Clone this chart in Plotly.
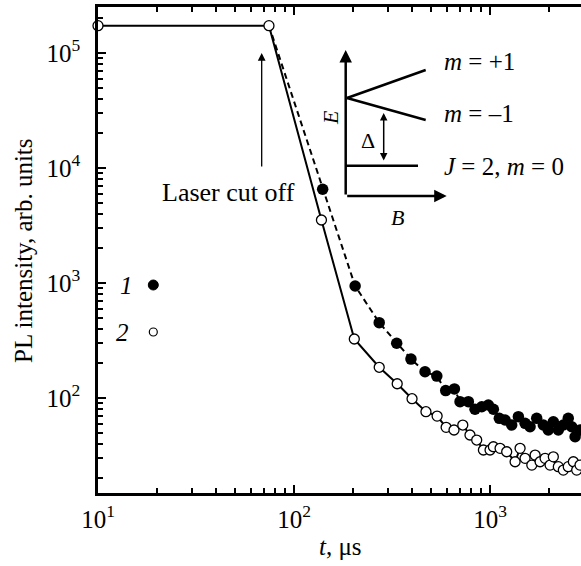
import math
import plotly.graph_objects as go

# ---------------- data ----------------
T_CUT = 74.5          # laser cut-off time, us
I_CW = 1.73e5         # steady-state intensity

# series 1 (filled circles, dashed line) after cut-off
t1 = [140, 205, 272, 334, 395, 466, 535, 594, 658, 703, 775, 838, 907, 980,
      1040, 1115, 1193, 1290, 1395, 1509, 1600, 1730, 1870, 1982, 2103, 2230,
      2365, 2506, 2610, 2716, 2877]
I1 = [6530, 941, 452, 299, 218, 169, 155, 116, 120, 92.9, 93, 79.8, 84, 86.9,
      79.8, 66.6, 64.4, 58.2, 68.8, 60.2, 56.3, 66.6, 58.2, 52.7, 62.2, 52.7,
      58.2, 66.6, 56.3, 46.0, 52.7]

# series 2 (open circles, solid line)
t2 = [10, 74.5, 138, 203, 272, 336, 400, 471, 537, 597, 655, 726, 790, 855,
      925, 1000, 1040, 1125, 1216, 1342, 1423, 1509, 1633, 1698, 1800, 1909,
      2024, 2103, 2230, 2365, 2506, 2661, 2767, 2877]
I2 = [1.73e5, 1.73e5, 3530, 326, 185, 133, 98.6, 76.0, 69.6, 55.6, 52.7, 58.2,
      47.7, 43.1, 35.3, 35.3, 37.7, 36.5, 34.1, 27.9, 36.5, 29.9, 26.1, 31.9,
      27.9, 29.9, 26.1, 30.8, 25.3, 23.6, 25.3, 27.9, 23.6, 26.1]

X_TICKS = [10, 100, 1000]
X_TICKTEXT = ["10<sup>1</sup>", "10<sup>2</sup>", "10<sup>3</sup>"]
Y_TICKS = [100, 1000, 10000, 100000]
Y_TICKTEXT = ["10<sup>2</sup>", "10<sup>3</sup>", "10<sup>4</sup>",
              "10<sup>5</sup>"]

X_RANGE_LOG = [1.0, 3.464]
Y_RANGE_LOG = [1.174, 5.40]

FONT = "Liberation Serif"
W, H = 581, 566
ML, MR, MT, MB = 98, 0, 7, 73
PW, PH = W - ML - MR, H - MT - MB


def px(x):
    return (x - ML) / PW


def py(y):
    return (H - MB - y) / PH


fig = go.Figure()

# series 1 dashed line (starts at cut-off point)
fig.add_trace(go.Scatter(
    x=[T_CUT] + t1, y=[I_CW] + I1, mode="lines",
    line=dict(color="black", width=2, dash="6px,4px"),
    hoverinfo="skip", showlegend=False, cliponaxis=False))
fig.add_trace(go.Scatter(
    x=t1, y=I1, mode="markers",
    marker=dict(symbol="circle", size=11.5, color="black"),
    showlegend=False, cliponaxis=False))
# series 2
fig.add_trace(go.Scatter(
    x=t2, y=I2, mode="lines+markers",
    line=dict(color="black", width=2),
    marker=dict(symbol="circle", size=10, color="white",
                line=dict(color="black", width=1.3)),
    showlegend=False, cliponaxis=False))

axis_common = dict(
    type="log", showgrid=False, zeroline=False, showline=True,
    linecolor="black", linewidth=2.5, ticks="inside", ticklen=8,
    tickwidth=2, tickcolor="black", tickmode="array",
    tickfont=dict(family=FONT, size=25, color="black"),
    minor=dict(ticks="inside", ticklen=5, tickwidth=1.5, tickcolor="black",
               dtick="D1", showgrid=False),
)

fig.update_xaxes(range=X_RANGE_LOG, mirror="ticks", ticklabelstandoff=2,
                 tickvals=X_TICKS, ticktext=X_TICKTEXT, **axis_common)
fig.update_yaxes(range=Y_RANGE_LOG, mirror=False, ticklabelstandoff=10,
                 tickvals=Y_TICKS, ticktext=Y_TICKTEXT, **axis_common)

ann = []


def text_ann(text, x, y, size, angle=0, xanchor="center"):
    ann.append(dict(text=text, xref="paper", yref="paper", x=px(x), y=py(y),
                    xanchor=xanchor, yanchor="middle", textangle=angle,
                    showarrow=False,
                    font=dict(family=FONT, size=size, color="black")))


def arrow_ann(x, y, ax, ay, width, both=False):
    d = dict(text="", xref="paper", yref="paper", x=px(x), y=py(y),
             ax=ax, ay=ay, showarrow=True, arrowhead=2, arrowsize=1,
             arrowwidth=width, arrowcolor="black", standoff=0)
    if both:
        d.update(arrowside="end+start", startstandoff=0)
    ann.append(d)


# axis titles
text_ann("PL intensity, arb. units", 24, 251, 25, angle=-90)
text_ann("<i>t</i>, μs", 340, 546, 25)
# laser cut off arrow (data coordinates)
T_ARROW = 68.4
ann.append(dict(text="", x=math.log10(T_ARROW), y=5.0, xref="x", yref="y",
                ax=math.log10(T_ARROW), ay=4.0, axref="x", ayref="y",
                showarrow=True, arrowhead=2, arrowsize=1.2, arrowwidth=1.3,
                arrowcolor="black", standoff=0))
text_ann("Laser cut off", 228, 192, 26)
# legend labels
text_ann("<i>1</i>", 126, 285, 25)
text_ann("<i>2</i>", 122, 332, 25)

# inset
arrow_ann(345.7, 50, 0, 146, 2.5)
arrow_ann(446.7, 196, -101, 0, 2.5)
arrow_ann(383.7, 113, 0, 49, 1.5, both=True)
text_ann("Δ", 368, 140, 22)
text_ann("<i>E</i>", 330, 118, 22, angle=-90)
text_ann("<i>B</i>", 397, 217, 22)
for label, yy in [("<i>m</i> = +1", 62), ("<i>m</i> = –1", 113),
                  ("<i>J</i> = 2, <i>m</i> = 0", 166)]:
    text_ann(label, 442, yy, 25, xanchor="left")

shapes = []
for (x0, y0, x1, y1) in [(347, 98, 425.7, 70), (347, 98, 425.7, 120),
                         (346, 165.7, 418, 165.7)]:
    shapes.append(dict(type="line", xref="paper", yref="paper",
                       x0=px(x0), y0=py(y0), x1=px(x1), y1=py(y1),
                       line=dict(color="black", width=2.5)))
# legend glyphs
shapes.append(dict(type="circle", xref="paper", yref="paper",
                   x0=px(148.3), x1=px(158.3), y0=py(280), y1=py(290),
                   fillcolor="black", line=dict(color="black", width=1)))
shapes.append(dict(type="circle", xref="paper", yref="paper",
                   x0=px(149.3), x1=px(157.3), y0=py(328), y1=py(336),
                   fillcolor="white", line=dict(color="black", width=1.2)))

fig.update_layout(
    width=W, height=H, margin=dict(l=ML, r=MR, t=MT, b=MB),
    paper_bgcolor="white", plot_bgcolor="white",
    annotations=ann, shapes=shapes, showlegend=False,
)

fig.write_html(
    "out.html",
    config={"displayModeBar": False},
    post_script="document.body.style.margin='0';"
                "document.body.style.overflow='hidden';")
